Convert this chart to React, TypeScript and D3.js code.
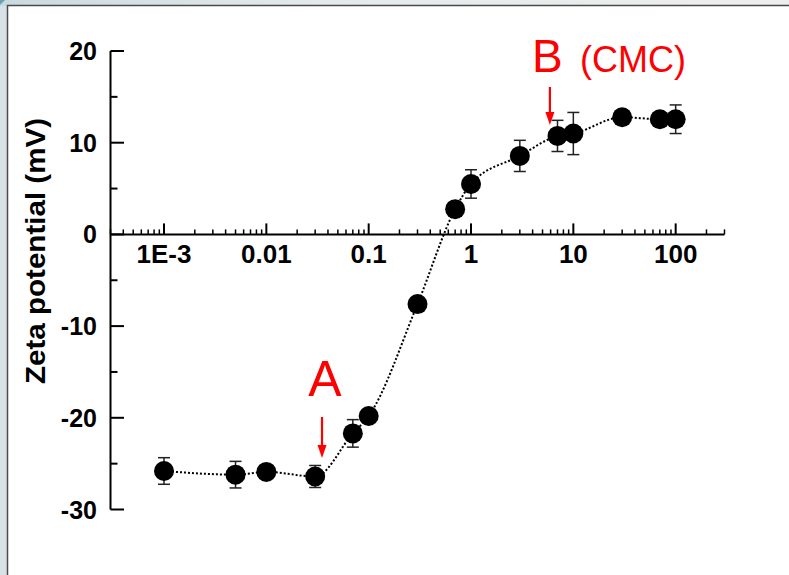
import React from 'react';
import * as d3 from 'd3';

const concentrations = [0.001, 0.005, 0.01, 0.03, 0.07, 0.1, 0.3, 0.7, 1, 3, 7, 10, 30, 70, 100];
const zeta = [-25.8, -26.2, -25.9, -26.4, -21.7, -19.8, -7.6, 2.75, 5.5, 8.56, 10.74, 11.0, 12.78, 12.56, 12.56];
const errors = [1.45, 1.45, 0.5, 1.2, 1.5, 0.5, 0.5, 0.5, 1.55, 1.7, 1.7, 2.3, 0.5, 0.5, 1.56];
const xTickValues = [0.001, 0.01, 0.1, 1, 10, 100];
const xTickLabels = ['1E-3', '0.01', '0.1', '1', '10', '100'];
const yTickValues = [20, 10, 0, -10, -20, -30];
const yTickLabels = ['20', '10', '0', '-10', '-20', '-30'];
const yMinorTicks = [15, 5, -5, -15, -25];
const annotationLabels = ['A', 'B', '(CMC)'];
const annotationConc = [0.035, 5.9];

const W = 789;
const H = 575;
const FONT = "'Liberation Sans', Arial, Helvetica, sans-serif";

export default function App() {
  const x = d3.scaleLog().domain([3e-4, 300]).range([110.5, 724.5]);
  const y = d3.scaleLinear().domain([-30, 20]).range([509.5, 51]);
  const y0 = y(0);

  const minorX: number[] = [];
  for (let d = -4; d <= 2; d++) {
    for (let k = 2; k <= 9; k++) {
      const v = k * Math.pow(10, d);
      if (v >= 3e-4 * 0.999 && v <= 300 * 1.001) minorX.push(v);
    }
  }

  const pts = concentrations.map((c, i) => ({ c, z: zeta[i], e: errors[i] }));
  const line = d3
    .line<{ c: number; z: number }>()
    .x((d) => x(d.c))
    .y((d) => y(d.z))
    .curve(d3.curveMonotoneX);

  const red = '#ff0000';
  const ax = x(annotationConc[0]);
  const bx = x(annotationConc[1]);

  return (
    <div style={{ position: 'absolute', left: 0, top: 0, width: W, height: H }}>
      <svg width={W} height={H} style={{ display: 'block' }}>
        <defs>
          <linearGradient id="topg" x1="0" y1="0" x2="1" y2="0">
            <stop offset="0" stopColor="#c9dadf" />
            <stop offset="0.4" stopColor="#e4eaec" />
            <stop offset="1" stopColor="#eeeeee" />
          </linearGradient>
        </defs>
        <rect x={0} y={0} width={W} height={H} fill="#d6e2e6" />
        <rect x={0} y={0} width={W} height={6} fill="url(#topg)" />
        <polygon points="0,0 5,0 0,5" fill="#6f9fb3" />
        <rect x={7.5} y={5.5} width={W} height={H} fill="#ffffff" stroke="#4a4a4a" strokeWidth={1.5} />

        {/* Y axis */}
        <line x1={110.5} x2={110.5} y1={y(20)} y2={y(-30)} stroke="#000" strokeWidth={2} />
        {yTickValues.map((v) => (
          <line key={'ym' + v} x1={110.5} x2={124} y1={y(v)} y2={y(v)} stroke="#000" strokeWidth={2} />
        ))}
        {yMinorTicks.map((v) => (
          <line key={'yn' + v} x1={110.5} x2={117.5} y1={y(v)} y2={y(v)} stroke="#000" strokeWidth={2} />
        ))}
        {yTickValues.map((v, i) => (
          <text
            key={'yl' + v}
            x={97}
            y={y(v)}
            dy="0.36em"
            textAnchor="end"
            fontFamily={FONT}
            fontWeight="bold"
            fontSize={25}
            fill="#000"
          >
            {yTickLabels[i]}
          </text>
        ))}
        <text
          transform={`translate(45, 251) rotate(-90)`}
          textAnchor="middle"
          fontFamily={FONT}
          fontWeight="bold"
          fontSize={27}
          textLength={266}
          lengthAdjust="spacingAndGlyphs"
          fill="#000"
        >
          Zeta potential (mV)
        </text>

        {/* X axis at y = 0 */}
        <line x1={110.5} x2={724.5} y1={y0} y2={y0} stroke="#000" strokeWidth={2} />
        {xTickValues.map((v) => (
          <line key={'xm' + v} x1={x(v)} x2={x(v)} y1={y0} y2={y0 - 11} stroke="#000" strokeWidth={2} />
        ))}
        {minorX.map((v) => (
          <line key={'xn' + v} x1={x(v)} x2={x(v)} y1={y0} y2={y0 - 5} stroke="#000" strokeWidth={1.5} />
        ))}
        {xTickValues.map((v, i) => (
          <text
            key={'xl' + v}
            x={x(v)}
            y={263}
            textAnchor="middle"
            fontFamily={FONT}
            fontWeight="bold"
            fontSize={26}
            fill="#000"
          >
            {xTickLabels[i]}
          </text>
        ))}

        {/* dotted curve */}
        <path d={line(pts) || ''} fill="none" stroke="#000" strokeWidth={2} strokeDasharray="2 2" />

        {/* error bars */}
        {pts.map((p, i) => (
          <g key={'e' + i} stroke="#222" strokeWidth={1.5}>
            <line x1={x(p.c)} x2={x(p.c)} y1={y(p.z + p.e)} y2={y(p.z - p.e)} />
            <line x1={x(p.c) - 6} x2={x(p.c) + 6} y1={y(p.z + p.e)} y2={y(p.z + p.e)} />
            <line x1={x(p.c) - 6} x2={x(p.c) + 6} y1={y(p.z - p.e)} y2={y(p.z - p.e)} />
          </g>
        ))}

        {/* markers */}
        {pts.map((p, i) => (
          <circle key={'c' + i} cx={x(p.c)} cy={y(p.z)} r={10} fill="#000" />
        ))}

        {/* annotation A */}
        <text x={ax + 3} y={396} textAnchor="middle" fontFamily={FONT} fontSize={50} fill={red}>
          {annotationLabels[0]}
        </text>
        <line x1={ax} x2={ax} y1={417} y2={448} stroke={red} strokeWidth={2.2} />
        <polygon points={`${ax - 4.5},${445} ${ax + 4.5},${445} ${ax},${458}`} fill={red} />

        {/* annotation B */}
        <text x={532} y={72} fontFamily={FONT} fontSize={46} fill={red}>
          {annotationLabels[1]}
        </text>
        <text x={580} y={72} fontFamily={FONT} fontSize={36} fill={red}>
          {annotationLabels[2]}
        </text>
        <line x1={bx} x2={bx} y1={87} y2={115} stroke={red} strokeWidth={2.2} />
        <polygon points={`${bx - 4.5},${112} ${bx + 4.5},${112} ${bx},${125}`} fill={red} />
      </svg>
    </div>
  );
}
